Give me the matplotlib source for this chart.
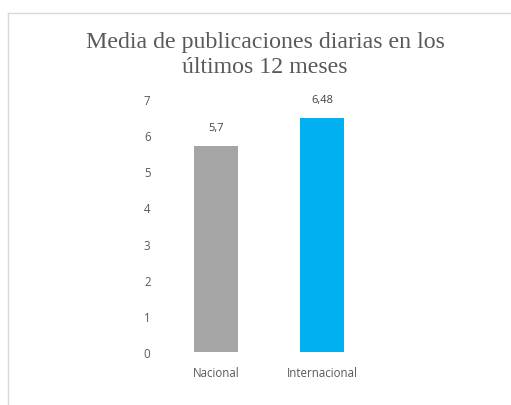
import matplotlib
matplotlib.use("Agg")
from matplotlib import pyplot as plt
from matplotlib.lines import Line2D

categorias = ["Nacional", "Internacional"]
valores = [5.7, 6.48]
etiquetas = ["5,7", "6,48"]
colores = ["#A5A5A5", "#00B0F0"]
ticks_y = [0, 1, 2, 3, 4, 5, 6, 7]

W, H = 511, 406
fig = plt.figure(figsize=(W / 100, H / 100), dpi=100)
fig.patch.set_facecolor("white")

# area del grafico (en pixeles de la imagen)
x0, x1 = 163, 375
y_top, y_bot = 100, 353
ax = fig.add_axes([x0 / W, 1 - y_bot / H, (x1 - x0) / W, (y_bot - y_top) / H])

pos = list(range(len(categorias)))
ax.bar(pos, valores, width=0.41, color=colores)
ax.set_xlim(-0.5, 1.5)
ax.set_ylim(0, 7)
ax.set_yticks(ticks_y)
ax.set_yticklabels([str(t) for t in ticks_y])
ax.set_xticks(pos)
ax.set_xticklabels(categorias)
for s in ax.spines.values():
    s.set_visible(False)
ax.tick_params(axis="both", length=0, labelsize=8.3, labelcolor="#595959")
ax.tick_params(axis="y", pad=9)
ax.tick_params(axis="x", pad=10)
for lbl in ax.get_xticklabels() + ax.get_yticklabels():
    lbl.set_family("Open Sans")

for p, v, t in zip(pos, valores, etiquetas):
    ax.annotate(t, (p, v), xytext=(0, 9), textcoords="offset points",
                ha="center", va="bottom", fontsize=8, color="#404040",
                family="Open Sans")

# titulo
fig.text(265 / W, 1 - 55 / H, "Media de publicaciones diarias en los\núltimos 12 meses",
         ha="center", va="center", fontsize=17.2, color="#595959",
         family="Liberation Serif", linespacing=1.2)

# borde del area del grafico
fig.add_artist(Line2D([7.5 / W, 7.5 / W], [0, 1 - 13.5 / H], color="#D9D9D9", lw=1))
fig.add_artist(Line2D([7.5 / W, 1], [1 - 13.5 / H, 1 - 13.5 / H], color="#D9D9D9", lw=1))

fig.savefig("out.png", dpi=100)
